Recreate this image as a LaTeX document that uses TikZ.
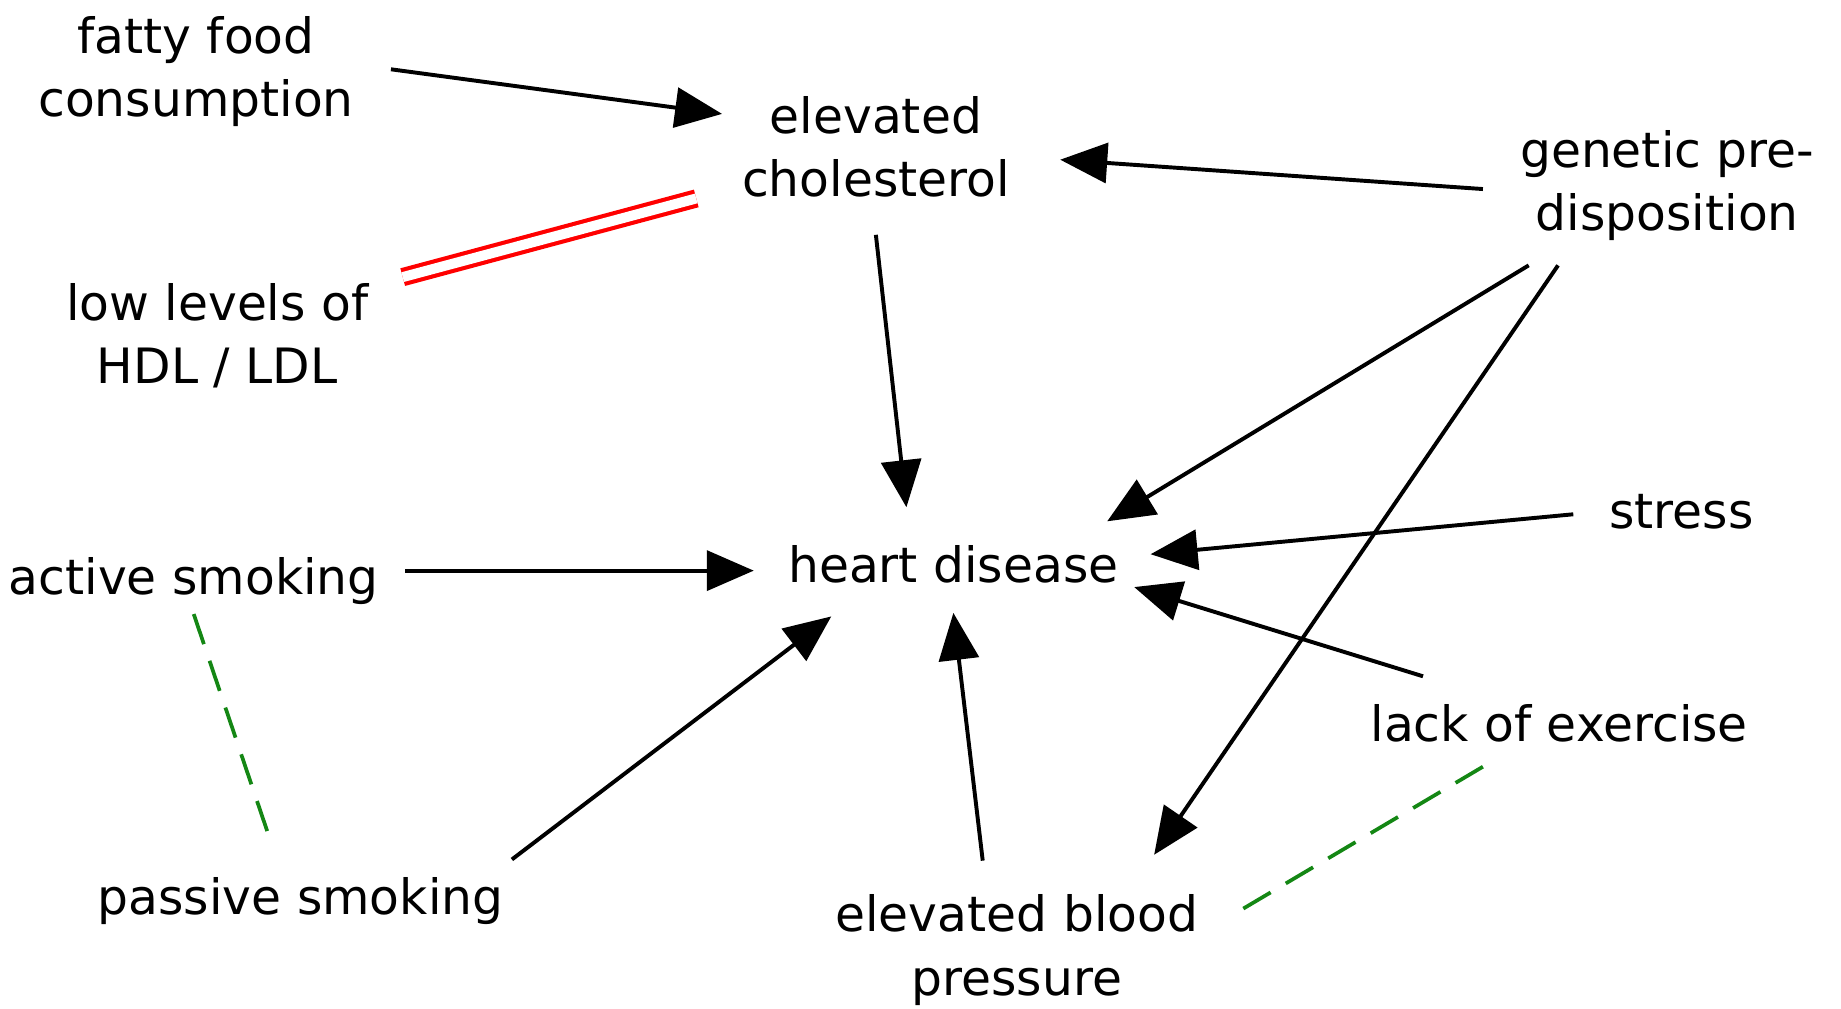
\documentclass[tikz,border=0pt]{standalone}
\usepackage{fontspec}
\setmainfont{DejaVu Sans}
\usepackage{xcolor}
\usepackage{tikz}
\usetikzlibrary{arrows.meta}
\definecolor{lnkgreen}{RGB}{20,135,20}
\tikzset{
  txt/.style={align=center, inner sep=1pt, font=\fontsize{11.8}{15.4}\selectfont},
  arr/.style={-{Triangle[length=4mm, width=3.4mm]}, line width=0.95pt},
  lnk/.style={lnkgreen, line width=0.9pt, dash pattern=on 0.27cm off 0.15cm},
  dbl/.style={red, line width=1pt, double=white, double distance=0.85mm},
}
\begin{document}
\begin{tikzpicture}[x=0.01cm, y=-0.01cm]
\useasboundingbox (0,0) rectangle (1568,859);
\node[txt] (fatty) at (167,61) {fatty food\\consumption};
\node[txt] (chol) at (746,125) {elevated\\cholesterol};
\node[txt] (gen) at (1420,158) {genetic pre-\\disposition};
\node[txt] (low) at (185,286) {low levels of\\HDL / LDL};
\node[txt] (heart) at (812,481) {heart disease};
\node[txt] (active) at (165,495) {active smoking};
\node[txt] (stress) at (1432,436) {stress};
\node[txt] (lack) at (1328,616) {lack of exercise};
\node[txt] (passive) at (256,767) {passive smoking};
\node[txt] (bp) at (866,809) {elevated blood\\pressure};
% causes
\draw[arr] ([shift={(166,-2)}]fatty.center) -- ([shift={(-131,-28)}]chol.center);
\draw[arr] ([shift={(-157,3)}]gen.center) -- ([shift={(157,11)}]chol.center);
\draw[arr] ([shift={(0,75)}]chol.center) -- ([shift={(-40,-49)}]heart.center);
\draw[arr] ([shift={(-118,68)}]gen.center) -- ([shift={(131,-37)}]heart.center);
\draw[arr] ([shift={(-93,68)}]gen.center) -- ([shift={(117,-81)}]bp.center);
\draw[arr] ([shift={(-92,2)}]stress.center) -- ([shift={(168,-9)}]heart.center);
\draw[arr] ([shift={(180,-9)}]active.center) -- ([shift={(-170,5)}]heart.center);
\draw[arr] ([shift={(-116,-40)}]lack.center) -- ([shift={(154,19)}]heart.center);
\draw[arr] ([shift={(180,-35)}]passive.center) -- ([shift={(-104,44)}]heart.center);
\draw[arr] ([shift={(-29,-76)}]bp.center) -- ([shift={(0,41)}]heart.center);
% links
\draw[dbl] ([shift={(158,-50)}]low.center) -- ([shift={(-153,44)}]chol.center);
\draw[lnk] ([shift={(0,28)}]active.center) -- ([shift={(-27,-55)}]passive.center);
\draw[lnk] ([shift={(-65,37)}]lack.center) -- ([shift={(191,-34)}]bp.center);
\end{tikzpicture}
\end{document}
